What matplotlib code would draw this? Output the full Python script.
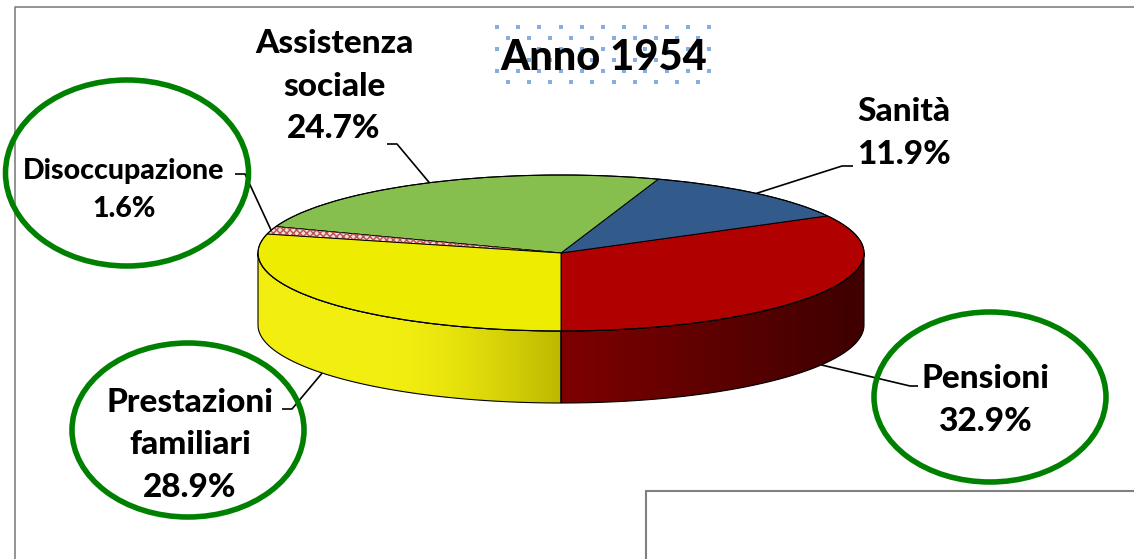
import numpy as np
import matplotlib
matplotlib.use('Agg')
import matplotlib.pyplot as plt
from matplotlib.patches import Polygon, Ellipse, Rectangle
from matplotlib.colors import to_rgb

plt.rcParams['font.family'] = ['Lato', 'DejaVu Sans']

# data
labels = ['Pensioni', 'Sanità', 'Assistenza\nsociale', 'Disoccupazione', 'Prestazioni\nfamiliari']
values = [32.9, 11.9, 24.7, 1.6, 28.9]
title = 'Anno 1954'

# styles
top_colors = ['#B00000', '#325A8A', '#86BF4E', '#F2DCDB', '#EEEC00']
side_grad = {0: ('#7E0000', '#3E0000'), 4: ('#F2EE10', '#BDB800')}
circled = [True, False, False, True, True]

# layout (pixels)
W, H = 1134, 559
cx, cy, a, b, depth = 561, 253, 303, 78, 72
start = -90.0
label_pos = [(985, 400), (904, 133), (334, 86), (124, 190), (190, 445)]
label_size = [24, 24, 24, 20.5, 24]
elbows = [((918, 386), (910, 386)), ((853, 166), (842, 166)), ((387, 144), (397, 144)),
          ((235, 174), (245, 174)), ((282, 409), (292, 409))]
circles = [(990, 397, 232, 170), None, None, (127, 173, 243, 186), (188, 430, 232, 174)]

fig = plt.figure(figsize=(W / 100, H / 100), dpi=100)
ax = fig.add_axes([0, 0, 1, 1])
ax.set_xlim(0, W)
ax.set_ylim(H, 0)
ax.axis('off')


def rim(t, dy=0.0):
    t = np.radians(t)
    return np.column_stack([cx + a * np.cos(t), cy - b * np.sin(t) + dy])


# slice angles
fr = np.array(values) / sum(values) * 360
ends = start + np.cumsum(fr)
starts = ends - fr

# side walls (front half only)
for i in range(len(values)):
    t1, t2 = starts[i] % 360, ends[i] % 360
    if t2 <= t1:
        t2 += 360
    lo, hi = max(t1, 180), min(t2, 360)
    if hi <= lo:
        continue
    ts = np.linspace(lo, hi, 120)
    pts = np.vstack([rim(ts), rim(ts[::-1], depth)])
    poly = Polygon(pts, closed=True, facecolor='none', edgecolor='black', lw=0.8, zorder=3)
    ax.add_patch(poly)
    c0, c1 = side_grad.get(i, (top_colors[i], top_colors[i]))
    c0, c1 = np.array(to_rgb(c0)), np.array(to_rgb(c1))
    x0, x1 = pts[:, 0].min(), pts[:, 0].max()
    s = np.linspace(0, 1, 200)
    if i == 4:
        s = np.clip((s - 0.45) / 0.55, 0, 1) ** 1.5
    grad = (c0[None, :] * (1 - s[:, None]) + c1[None, :] * s[:, None])[None, :, :]
    im = ax.imshow(grad, extent=(x0, x1, pts[:, 1].max(), pts[:, 1].min()),
                   aspect='auto', zorder=2, interpolation='bilinear')
    im.set_clip_path(poly)

# top face
for i in range(len(values)):
    ts = np.linspace(starts[i], ends[i], 150)
    pts = np.vstack([[cx, cy], rim(ts)])
    ax.add_patch(Polygon(pts, closed=True, facecolor=top_colors[i], edgecolor='black',
                         lw=0.7, zorder=4))
    if i == 3:
        ax.add_patch(Polygon(pts, closed=True, facecolor='none', edgecolor='#C0504D',
                             lw=0, zorder=4, hatch='xxxxx'))
ax.add_patch(Ellipse((cx, cy), 2 * a, 2 * b, facecolor='none', edgecolor='black', lw=0.8, zorder=5))

# leader lines and labels
for i in range(len(values)):
    mid = np.radians((starts[i] + ends[i]) / 2)
    ax_, ay_ = cx + a * np.cos(mid), cy - b * np.sin(mid)
    if np.sin(mid) < 0:
        ay_ += depth
    (ex, ey), (kx, ky) = elbows[i]
    ax.plot([ax_, kx, ex], [ay_, ky, ey], color='black', lw=1.2, zorder=6,
            solid_capstyle='butt')
    lx, ly = label_pos[i]
    ax.text(lx, ly, f'{labels[i]}\n{values[i]:.1f}%', ha='center', va='center',
            fontsize=label_size[i], fontweight='black', linespacing=1.55, zorder=7)
    if circled[i]:
        ex_, ey_, w_, h_ = circles[i]
        ax.add_patch(Ellipse((ex_, ey_), w_, h_, facecolor='none', edgecolor='#008000',
                             lw=4, zorder=8))

# title with dotted background (staggered dot grid)
for r in range(6):
    xs = np.arange(497 + (r % 2) * 10.6, 712, 21.2)
    ax.scatter(xs, np.full(len(xs), 27 + r * 11), s=7, marker='s', color='#86AEE0',
               linewidths=0, zorder=1)
ax.text(604, 58, title, ha='center', va='center', fontsize=30, fontweight='black', zorder=7)

# frame lines
ax.plot([15, 15, W], [H, 7, 7], color='#808080', lw=1.2, zorder=1)
ax.add_patch(Rectangle((646, 491), 600, 200, facecolor='white', edgecolor='#808080', lw=1.5, zorder=1))

fig.savefig('out.png', dpi=100)
